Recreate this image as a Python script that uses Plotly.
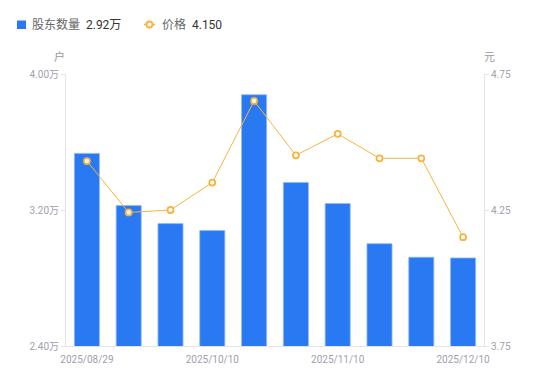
import plotly.graph_objects as go

dates = ["2025/08/29", "2025/09/10", "2025/09/19", "2025/10/10", "2025/10/20",
         "2025/10/31", "2025/11/10", "2025/11/20", "2025/11/28", "2025/12/10"]
holders_wan = [3.533, 3.226, 3.120, 3.079, 3.878, 3.362, 3.238, 3.002, 2.922, 2.918]
price = [4.430, 4.241, 4.250, 4.351, 4.651, 4.451, 4.530, 4.440, 4.440, 4.150]
shown_dates = ["2025/08/29", "2025/10/10", "2025/11/10", "2025/12/10"]
left_ticks = [2.40, 3.20, 4.00]
right_ticks = [3.75, 4.25, 4.75]

FONT = "Roboto, 'Noto Sans CJK SC', sans-serif"
TICK_COLOR = "#a0a0ae"
AXIS_COLOR = "#e3e3e8"
BLUE = "#2979f2"
ORANGE = "#f8b43c"

fig = go.Figure()
fig.add_trace(go.Bar(
    x=dates, y=holders_wan, name="股东数量", yaxis="y",
    marker=dict(color=BLUE, line=dict(color="#8fbaf8", width=0.8)),
    showlegend=False,
))
fig.add_trace(go.Scatter(
    x=dates, y=price, name="价格", yaxis="y2", mode="lines+markers",
    line=dict(color=ORANGE, width=1),
    marker=dict(symbol="circle", size=6, color="white", line=dict(color=ORANGE, width=1.8)),
    showlegend=False,
))

fig.update_layout(
    width=550, height=381,
    margin=dict(l=66, r=66, t=74, b=35),
    paper_bgcolor="white", plot_bgcolor="white",
    bargap=0.4,
    font=dict(family=FONT, size=10, color=TICK_COLOR),
    xaxis=dict(
        type="category", range=[-0.5, len(dates) - 0.5], autorange=False,
        tickmode="array", tickvals=shown_dates, ticktext=shown_dates,
        showgrid=False, showline=True, linecolor=AXIS_COLOR, linewidth=1,
        ticks="outside", ticklen=4, tickcolor="rgba(0,0,0,0)",
        tickfont=dict(size=10, color=TICK_COLOR), zeroline=False,
        automargin=False,
    ),
    yaxis=dict(
        range=[2.40, 4.00], tickmode="array", tickvals=left_ticks,
        ticktext=["%.2f万" % v for v in left_ticks],
        showgrid=False, showline=True, linecolor=AXIS_COLOR, linewidth=1,
        ticks="outside", ticklen=4, tickcolor=AXIS_COLOR,
        tickfont=dict(size=10, color=TICK_COLOR), zeroline=False, automargin=False,
    ),
    yaxis2=dict(
        range=[3.75, 4.75], overlaying="y", side="right", tickmode="array",
        tickvals=right_ticks, ticktext=["%.2f" % v for v in right_ticks],
        showgrid=False, showline=True, linecolor=AXIS_COLOR, linewidth=1,
        ticks="outside", ticklen=4, tickcolor=AXIS_COLOR,
        tickfont=dict(size=10, color=TICK_COLOR), zeroline=False, automargin=False,
    ),
)

# axis unit labels
fig.add_annotation(text="户", xref="paper", yref="paper", x=-0.015, y=1.0, yshift=17,
                   showarrow=False, font=dict(size=11, color="#999999"),
                   xanchor="center", yanchor="middle")
fig.add_annotation(text="元", xref="paper", yref="paper", x=1.013, y=1.0, yshift=17,
                   showarrow=False, font=dict(size=11, color="#999999"),
                   xanchor="center", yanchor="middle")

# custom legend (top-left)
PW, PL, PB = 418, 66, 346
fig.add_shape(type="rect", xref="paper", yref="paper",
              x0=(17 - PL) / PW, x1=(26 - PL) / PW,
              y0=(PB - 29) / 272, y1=(PB - 20.5) / 272,
              fillcolor=BLUE, line=dict(width=0))
fig.add_annotation(
    text="股东数量  <span style='color:#333333'>%.2f万</span>" % holders_wan[-1],
    xref="paper", yref="paper", x=(30 - PL) / PW, y=(PB - 24.5) / 272,
    xanchor="left", yanchor="middle", showarrow=False,
    font=dict(size=12, color="#666666"))
fig.add_shape(type="line", xref="paper", yref="paper",
              x0=(144 - PL) / PW, x1=(155 - PL) / PW,
              y0=(PB - 24.5) / 272, y1=(PB - 24.5) / 272,
              line=dict(color=ORANGE, width=1.5))
fig.add_shape(type="circle", xref="paper", yref="paper",
              x0=(146.5 - PL) / PW, x1=(152.5 - PL) / PW,
              y0=(PB - 27.5) / 272, y1=(PB - 21.5) / 272,
              fillcolor="white", line=dict(color=ORANGE, width=1.8))
fig.add_annotation(
    text="价格  <span style='color:#333333'>%.3f</span>" % price[-1],
    xref="paper", yref="paper", x=(160 - PL) / PW, y=(PB - 24.5) / 272,
    xanchor="left", yanchor="middle", showarrow=False,
    font=dict(size=12, color="#666666"))

fig.write_html("out.html", config={"displayModeBar": False},
               post_script="document.body.style.margin='0';")
